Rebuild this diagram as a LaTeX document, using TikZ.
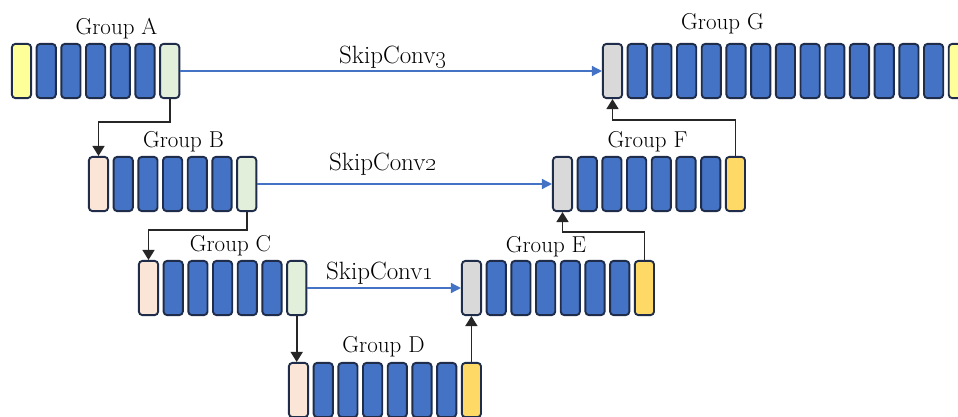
\documentclass[tikz,border=0pt]{standalone}
\usetikzlibrary{arrows.meta}

\definecolor{blkedge}{HTML}{1F2D4A}
\definecolor{convblue}{HTML}{4472C4}
\definecolor{inyellow}{HTML}{FFFF99}
\definecolor{outgreen}{HTML}{E2EFDA}
\definecolor{downpeach}{HTML}{FBE5D6}
\definecolor{upgray}{HTML}{D9D9D9}
\definecolor{upgold}{HTML}{FFD966}
\definecolor{flowline}{HTML}{262626}
\definecolor{skipline}{HTML}{4472C4}

% one row of feature blocks: name, left x, top y, list of fill colours
\newcommand\grouprow[4]{%
  \foreach \c [count=\i] in {#4} {
    \node[blk, fill=\c] (#1\i) at ({#2+10.5+(\i-1)*24.7}, {#3+28}) {};
  }}

\begin{document}
\begin{tikzpicture}[x=1pt, y=-1pt,
  blk/.style={draw=blkedge, line width=1.9pt, rounded corners=3.5pt,
    minimum width=19.2pt, minimum height=54.2pt, inner sep=0pt},
  grp/.style={font=\fontsize{23}{26}\selectfont, anchor=base, inner sep=0pt},
  skiplbl/.style={font=\fontsize{25}{28}\selectfont, anchor=base, inner sep=0pt},
  flow/.style={draw=flowline, line width=1.6pt,
    -{Triangle[width=12pt,length=10pt]}},
  skip/.style={draw=skipline, line width=1.5pt,
    -{Triangle[width=10pt,length=10pt]}}]
\useasboundingbox (0,0) rectangle (958,417);

% encoder groups
\grouprow{A}{11}{43}{inyellow,convblue,convblue,convblue,convblue,convblue,outgreen}
\grouprow{B}{88}{156}{downpeach,convblue,convblue,convblue,convblue,convblue,outgreen}
\grouprow{C}{138}{260}{downpeach,convblue,convblue,convblue,convblue,convblue,outgreen}
% bottleneck
\grouprow{D}{288}{362}{downpeach,convblue,convblue,convblue,convblue,convblue,convblue,upgold}
% decoder groups
\grouprow{E}{461}{260}{upgray,convblue,convblue,convblue,convblue,convblue,convblue,upgold}
\grouprow{F}{552}{156}{upgray,convblue,convblue,convblue,convblue,convblue,convblue,upgold}
\grouprow{G}{602}{43}{upgray,convblue,convblue,convblue,convblue,convblue,convblue,convblue,convblue,convblue,convblue,convblue,convblue,convblue,inyellow}

% group titles
\node[grp] (tA) at (116.5,35) {Group A};
\node[grp] (tB) at (183.5,147) {Group B};
\node[grp] (tC) at (230.5,251) {Group C};
\node[grp] (tD) at (383.5,352) {Group D};
\node[grp] (tE) at (546,252) {Group E};
\node[grp] (tF) at (647.5,147) {Group F};
\node[grp] (tG) at (722.5,30) {Group G};

% downsampling path
\draw[flow] (A7.south) -- ++(0,23) -| (B1.north);
\draw[flow] (B7.south) -- ++(0,18) -| (C1.north);
\draw[flow] (C7.south) -- (C7.south |- D1.north);

% upsampling path
\draw[flow] (D8.north) -- (D8.north |- E1.south);
\draw[flow] (E8.north) -- ++(0,-28) -| (F1.south);
\draw[flow] (F8.north) -- ++(0,-36) -| (G1.south);

% skip connections
\draw[skip] (A7.east) -- (G1.west);
\draw[skip] (B7.east) -- (F1.west);
\draw[skip] (C7.east) -- (E1.west);
\node[skiplbl] (s3) at (393,64) {SkipConv\oldstylenums{3}};
\node[skiplbl] (s2) at (383,170) {SkipConv\oldstylenums{2}};
\node[skiplbl] (s1) at (380,279) {SkipConv\oldstylenums{1}};
\end{tikzpicture}
\end{document}
